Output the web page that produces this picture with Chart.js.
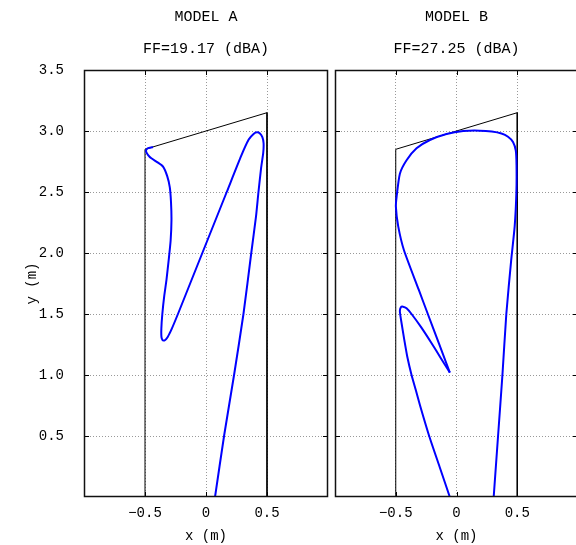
<!DOCTYPE html>
<html>
<head>
<meta charset="utf-8">
<script src="https://cdn.jsdelivr.net/npm/chart.js@4.4.1/dist/chart.umd.min.js"></script>
<style>
  html, body { margin: 0; padding: 0; background: #fff; overflow: hidden; width: 576px; height: 545px; }
  canvas.panel { position: absolute; top: 0; height: 545px; }
  #chartA { left: 0; width: 331px; }
  #chartB { left: 331px; width: 250px; }
</style>
</head>
<body>
<canvas id="chartA" class="panel" width="331" height="545"></canvas>
<canvas id="chartB" class="panel" width="250" height="545"></canvas>
<script>
  // panel headers
  const modelNames = ['MODEL A', 'MODEL B'];
  const ffLabels = ['FF=19.17 (dBA)', 'FF=27.25 (dBA)'];

  // axes
  const xTicks = [-0.5, 0, 0.5];
  const xTickLabels = ['\u22120.5', '0', '0.5'];
  const yTicks = [0.5, 1.0, 1.5, 2.0, 2.5, 3.0, 3.5];
  const yTickLabels = ['0.5', '1.0', '1.5', '2.0', '2.5', '3.0', '3.5'];

  // black outline (same in both panels)
  const outlineX = [-0.5, -0.5, 0.5, 0.5];
  const outlineY = [0, 2.85, 3.15, 0];

  // model A curve
  const aX = [0.074, 0.148, 0.23, 0.307, 0.371, 0.41, 0.43, 0.452, 0.469, 0.472,
              0.462, 0.44, 0.418, 0.392, 0.35, 0.29, 0.17, 0.07, -0.03, -0.13,
              -0.23, -0.28, -0.315, -0.34, -0.355, -0.365, -0.366, -0.358, -0.342, -0.324,
              -0.305, -0.29, -0.283, -0.287, -0.297, -0.318, -0.352, -0.40, -0.448, -0.476,
              -0.492, -0.48, -0.458, -0.434];
  const aY = [0, 0.5, 1.0, 1.5, 2.0, 2.3, 2.5, 2.7, 2.82, 2.9,
              2.95, 2.982, 2.99, 2.978, 2.93, 2.8, 2.5, 2.25, 2.0, 1.75,
              1.5, 1.38, 1.31, 1.283, 1.285, 1.31, 1.38, 1.5, 1.65, 1.78,
              1.95, 2.1, 2.27, 2.42, 2.54, 2.63, 2.708, 2.745, 2.776, 2.805,
              2.835, 2.856, 2.863, 2.868];

  // model B curve, split at the sharp turn near (-0.055, 1.02)
  const b1X = [0.306, 0.342, 0.378, 0.41, 0.45, 0.479, 0.493, 0.494, 0.488, 0.465,
               0.424, 0.37, 0.29, 0.19, 0.055, -0.082, -0.219, -0.329, -0.411, -0.466,
               -0.493, -0.499, -0.48, -0.433, -0.31, -0.236, -0.144, -0.055];
  const b1Y = [0, 0.5, 1.0, 1.5, 1.94, 2.22, 2.5, 2.72, 2.84, 2.91,
               2.953, 2.98, 2.996, 3.003, 3.0, 2.975, 2.926, 2.858, 2.76, 2.65,
               2.46, 2.38, 2.22, 2.025, 1.697, 1.5, 1.257, 1.02];
  const b2X = [-0.055, -0.13, -0.205, -0.29, -0.37, -0.411, -0.44, -0.458, -0.466, -0.452,
               -0.43, -0.405, -0.37, -0.335, -0.30, -0.225, -0.14, -0.055];
  const b2Y = [1.02, 1.14, 1.26, 1.39, 1.5, 1.547, 1.56, 1.555, 1.52, 1.424,
               1.29, 1.15, 1.0, 0.877, 0.75, 0.5, 0.25, 0];

  const FONT = "'Liberation Mono', 'DejaVu Sans Mono', monospace";
  Chart.defaults.font.family = FONT;
  Chart.defaults.color = '#000';

  const pts = (xs, ys) => xs.map((x, i) => ({ x: x, y: ys[i] }));

  // frame round the plot area plus small inward ticks
  const framePlugin = {
    id: 'frame',
    afterDatasetsDraw(chart) {
      const { ctx, chartArea: a, scales } = chart;
      ctx.save();
      ctx.strokeStyle = '#000';
      ctx.lineWidth = 1;
      ctx.beginPath();
      for (const v of yTicks) {
        const y = Math.round(scales.y.getPixelForValue(v)) + 0.5;
        ctx.moveTo(a.left, y); ctx.lineTo(a.left + 5, y);
        ctx.moveTo(a.right, y); ctx.lineTo(a.right - 5, y);
      }
      for (const v of xTicks) {
        const x = Math.round(scales.x.getPixelForValue(v)) + 0.5;
        ctx.moveTo(x, a.bottom); ctx.lineTo(x, a.bottom - 5);
        ctx.moveTo(x, a.top); ctx.lineTo(x, a.top + 5);
      }
      ctx.stroke();
      ctx.lineWidth = 1.5;
      ctx.strokeStyle = '#111';
      ctx.strokeRect(Math.round(a.left) + 0.5, Math.round(a.top) + 0.5,
                     Math.round(a.width) - 1, Math.round(a.height) - 1);
      ctx.restore();
    }
  };

  function makePanel(id, idx, curves, showY, padding) {
    const blue = curves.map(c => ({
      data: pts(c[0], c[1]),
      borderColor: '#0000ff',
      borderWidth: 2,
      showLine: true,
      pointRadius: 0,
      tension: 0.2,
      order: 0
    }));
    return new Chart(document.getElementById(id), {
      type: 'scatter',
      data: {
        datasets: blue.concat([{
          data: pts(outlineX, outlineY),
          borderColor: '#000',
          borderWidth: 1,
          showLine: true,
          pointRadius: 0,
          tension: 0,
          order: 1
        }])
      },
      options: {
        responsive: false,
        animation: false,
        layout: { padding: padding },
        plugins: {
          legend: { display: false },
          tooltip: { enabled: false },
          title: {
            display: true,
            fullSize: false,
            text: [modelNames[idx], ffLabels[idx]],
            font: { size: 15, weight: 'normal', lineHeight: '32px' },
            padding: { top: 1, bottom: 5 }
          }
        },
        scales: {
          x: {
            type: 'linear',
            min: -1,
            max: 1,
            afterBuildTicks: s => { s.ticks = xTicks.map(v => ({ value: v })); },
            afterFit: s => { s.height = 48; },
            ticks: {
              callback: (v, i) => xTickLabels[i],
              font: { size: 14 },
              padding: 8,
              maxRotation: 0,
              autoSkip: false
            },
            grid: { color: '#999', drawTicks: false },
            border: { display: false, dash: [1, 2] },
            title: { display: true, text: 'x (m)', font: { size: 14 }, padding: 0 }
          },
          y: {
            type: 'linear',
            min: 0,
            max: 3.5,
            afterBuildTicks: s => { s.ticks = yTicks.map(v => ({ value: v })); },
            afterFit: s => { s.width = showY ? 84 : 0; },
            ticks: {
              display: showY,
              callback: (v, i) => yTickLabels[i],
              font: { size: 14 },
              padding: 20
            },
            grid: { color: '#999', drawTicks: false },
            border: { display: false, dash: [1, 2] },
            title: { display: showY, text: 'y (m)', font: { size: 14 }, padding: { top: 24, bottom: 0 } }
          }
        }
      },
      plugins: [framePlugin]
    });
  }

  makePanel('chartA', 0, [[aX, aY]], true, { left: 0, right: 3, top: 0, bottom: 0 });
  makePanel('chartB', 1, [[b1X, b1Y], [b2X, b2Y]], false, { left: 4, right: 3, top: 0, bottom: 0 });
</script>
</body>
</html>
